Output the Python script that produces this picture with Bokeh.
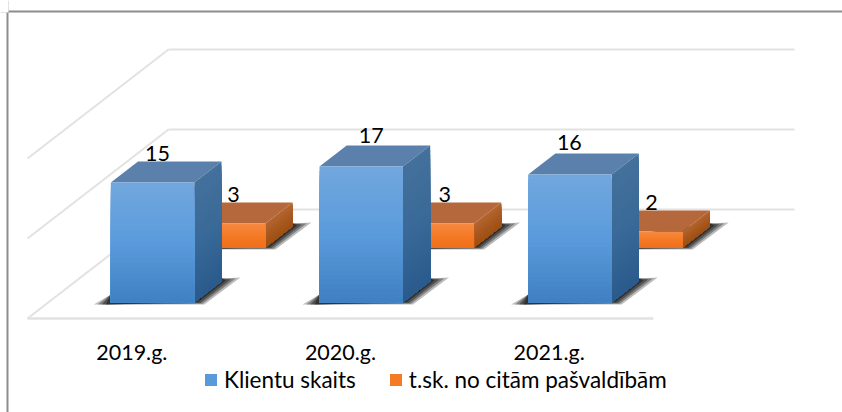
from bokeh.plotting import figure
from bokeh.models import ColumnDataSource, Legend, LegendItem, Span
from bokeh.core.properties import value
from bokeh.embed import file_html
from bokeh.resources import INLINE

categories = ["2019.g.", "2020.g.", "2021.g."]
clients = [15, 17, 16]
other = [3, 3, 2]
grid_values = [0, 10, 20]
series_names = ["Klientu skaits", "t.sk. no citām pašvaldībām"]

FONT = "Lato"
PX_X = 626 / 3          # pixels per category
PX_Y = 8.0              # pixels per value unit
DX = 141 / PX_X         # full-depth shift, category units
DY = 109 / PX_Y         # full-depth shift, value units

p = figure(width=842, height=412, output_backend="svg", toolbar_location=None,
           x_range=(-27 / PX_X, 815 / PX_X), y_range=(-94 / PX_Y, 318 / PX_Y),
           min_border=0, outline_line_color=None, background_fill_color="white")
p.axis.visible = False
p.grid.visible = False


def pr(x, v, d):
    return x + d * DX, v + d * DY


def mix(a, b, t):
    ca = [int(a[i:i + 2], 16) for i in (1, 3, 5)]
    cb = [int(b[i:i + 2], 16) for i in (1, 3, 5)]
    return "#%02x%02x%02x" % tuple(round(u + (w - u) * t) for u, w in zip(ca, cb))


def ramp(stops, t):
    n = len(stops) - 1
    k = min(int(t * n), n - 1)
    return mix(stops[k], stops[k + 1], t * n - k)


# frame lines (top + left only)
p.add_layout(Span(location=(318 - 11) / PX_Y, dimension="width", line_color="#8c8c8c", line_width=2))
p.add_layout(Span(location=-20 / PX_X, dimension="height", line_color="#8c8c8c", line_width=2))
p.patch([-30 / PX_X, -19 / PX_X, -19 / PX_X, -30 / PX_X],
        [(318 - 12) / PX_Y] * 2 + [330 / PX_Y] * 2,
        fill_color="white", line_color=None, level="overlay")

# walls / floor gridlines
GRID = "#e2e2e2"
for v in grid_values:
    xb0, yb = pr(0, v, 1)
    p.line([xb0, xb0 + 3], [yb, yb], line_color=GRID, line_width=2)
    p.line([0, xb0], [v, yb], line_color=GRID, line_width=2)
p.line([0, 3], [0, 0], line_color=GRID, line_width=2.5)

N = 30
BLUE = dict(front=["#72a7de", "#5a9bdc", "#3f80c1"], side=["#44709c", "#3a6a98", "#2a5a8c"], top="#5a80ab",
            d0=0.147, d1=0.34)
ORANGE = dict(front=["#f68a43", "#f57a25", "#ef6f1c"], side=["#b5672f", "#a85a22", "#9e5012"], top="#b5683b",
              d0=0.651, d1=0.844)


def draw_series(vals, st):
    for layer, (shrink, alpha) in enumerate([(0, 0.3), (4, 0.4), (8, 0.5), (12, 0.65)]):
        sx, sy = [], []
        for i, val in enumerate(vals):
            x0, yb = pr(i + 0.3, 0, st["d0"])
            x1 = x0 + 0.4
            u, w = 1 / PX_X, 1 / PX_Y
            sx.append([x0 - (17 - shrink) * u, x0, x1 + 28 * u, x1 + (46 - 1.2 * shrink) * u, x1 + (10 - shrink / 2) * u])
            sy.append([yb - 2 * w, yb + 8 * w, yb + 24 * w, yb + (25 - shrink / 4) * w, yb - (2 - shrink / 5) * w])
        p.patches(sx, sy, fill_color="#222222", fill_alpha=alpha, line_color=None)

    fl, fr, fb, ft, fc = [], [], [], [], []
    px, py, pc = [], [], []
    tx, ty = [], []
    for i, val in enumerate(vals):
        x0, y0 = pr(i + 0.3, 0, st["d0"])
        x1 = x0 + 0.4
        xb, yb = pr(i + 0.3, 0, st["d1"])
        for k in range(N):
            a = k / N
            t = (k + 0.5) / N
            fl.append(x0); fr.append(x1)
            ft.append(y0 + val * (1 - a)); fb.append(y0)
            fc.append(ramp(st["front"], t))
            px.append([x1, xb + 0.4, xb + 0.4, x1])
            py.append([y0 + val * (1 - a), yb + val * (1 - a), yb, y0])
            pc.append(ramp(st["side"], t))
        tx.append([x0, x1, xb + 0.4, xb])
        ty.append([y0 + val, y0 + val, yb + val, yb + val])
    p.patches(tx, ty, fill_color=st["top"], line_color=None)
    p.patches(px, py, fill_color=pc, line_color=None)
    src = ColumnDataSource(dict(left=fl, right=fr, top=ft, bottom=fb, color=fc))
    return p.quad(left="left", right="right", top="top", bottom="bottom", source=src,
                  fill_color="color", line_color=None)


r_other = draw_series(other, ORANGE)
r_clients = draw_series(clients, BLUE)


def labels(xs, ys, texts, **kw):
    p.text(xs, ys, text=texts, text_font=value(FONT), text_font_size="21.5px", text_color="black",
           text_align="center", text_baseline="middle", **kw)


# category labels
labels([i + 0.5 for i in range(3)], [(318 - 351) / PX_Y] * 3, categories)

# data labels: pixel nudges relative to the back of each bar
blue_nudge = [19.5, 24.5, 14]
blue_lift = [8, 10, 11]
orange_nudge = [24.5, 27, 25]
xs, ys = [], []
for i, (val, n, h) in enumerate(zip(clients, blue_nudge, blue_lift)):
    x, y = pr(i + 0.3, val, BLUE["d1"])
    xs.append(x + n / PX_X); ys.append(y + h / PX_Y)
labels(xs, ys, [str(v) for v in clients])
xs, ys = [], []
for i, (val, n) in enumerate(zip(other, orange_nudge)):
    x, y = pr(i + 0.3, val, ORANGE["d1"])
    xs.append(x + n / PX_X); ys.append(y + 8 / PX_Y)
labels(xs, ys, [str(v) for v in other])

# legend
legend = Legend(items=[LegendItem(label=series_names[0], renderers=[r_clients], index=N // 2),
                       LegendItem(label=series_names[1], renderers=[r_other], index=N // 2)],
                orientation="horizontal", location=(203, 19), background_fill_alpha=0, border_line_color=None,
                glyph_width=15, glyph_height=15, label_text_font=FONT, label_text_font_size="22.5px",
                label_text_color="black", spacing=32, margin=0, padding=8, label_standoff=6,
                label_height=15)
p.add_layout(legend, "center")

open("out.html", "w").write(file_html(p, INLINE))
